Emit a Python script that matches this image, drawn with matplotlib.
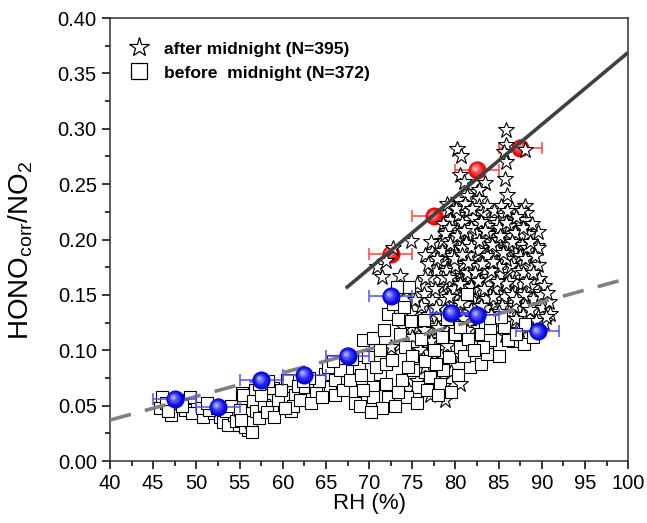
import matplotlib
matplotlib.use("Agg")
import matplotlib.pyplot as plt
import matplotlib.transforms as mtransforms
import numpy as np

plt.rcParams['font.family'] = ['Liberation Sans', 'DejaVu Sans']
plt.rcParams['mathtext.fontset'] = 'custom'
plt.rcParams['mathtext.rm'] = 'Liberation Sans'
plt.rcParams['mathtext.it'] = 'Liberation Sans:italic'

# ---------------- data ----------------
after_rh = [85.8, 85.9, 85.6, 80.2, 80.6, 88.0,
            85.8, 80.5, 81.0, 85.75, 83.4,
            81.3, 82.5, 82.7, 82.7, 86.0, 82.7, 88.1, 79.9, 80.8,
            79.2, 79.4, 80.3, 81.5, 82.0, 83.2, 84.0, 86.7, 88.2, 88.1, 87.1, 78.6, 80.9, 82.6, 84.8, 85.6, 89.6,
            74.9, 79.0, 78.9, 79.8, 80.6, 81.4, 82.2, 83.1, 83.9, 84.7, 85.5, 86.4, 87.3, 88.4, 72.8, 77.3, 76.5,
            79.1, 81.0, 84.3, 86.9, 89.4, 89.5, 87.7,
            70.9, 71.5, 71.9, 77.8, 78.5, 79.8, 80.6, 81.7, 82.5, 83.6, 84.5, 85.4, 86.0, 86.7, 88.8, 89.6, 80.2,
            82.9, 84.9, 79.0, 81.9,
            75.5, 76.3, 78.6, 80.9, 77.1, 79.6, 82.0, 83.1, 84.2, 85.1, 89.7, 88.6, 89.8, 87.5, 90.3, 73.6, 74.3,
            81.5, 84.0,
            74.8, 77.3, 78.2, 76.0, 79.5, 80.8, 82.0, 83.5, 84.6, 86.2, 87.1, 88.0, 89.0, 90.0, 90.8, 87.8, 89.5, 91.0,
            75.7, 76.7, 81.3, 82.3, 77.8, 79.0, 80.0, 83.5, 85.0, 86.5, 88.5, 90.2, 74.0, 78.5,
            75.9, 74.9, 73.5, 77.5, 79.0, 80.5, 72.5, 76.2,
            76.5, 77.5, 78.5, 75.5, 79.5, 77.0, 78.8, 74.5, 80.5,
            78.0, 79.3, 80.0, 80.8, 81.2, 82.4, 83.0, 83.6, 84.4, 85.0, 85.9, 86.2, 79.5, 80.9, 82.2, 83.3, 84.0,
            85.2, 86.4, 87.2, 79.0, 80.3, 81.6, 82.8, 83.9, 85.6, 86.8, 78.8, 80.1, 81.2, 82.5, 83.0, 84.1, 85.4,
            86.0, 87.0,
            80.3, 79.0, 80.1, 81.1, 81.9, 83.7, 84.5, 85.3, 86.5, 87.6,
            78.4, 78.8, 79.6, 80.4, 81.8, 82.9, 83.8, 84.9, 85.8, 86.9, 87.8, 88.9,
            77.2, 78.4, 79.6, 80.7, 81.6, 82.6, 83.6, 84.8, 85.9, 86.2, 87.5, 88.3,
            76.8, 77.9, 78.9, 80.0, 81.3, 82.5, 83.8, 85.0, 86.2, 87.8, 88.0,
            76.5, 77.6, 78.6, 79.8, 81.0, 82.2, 83.5, 84.6, 85.8, 86.5, 87.9,
            75.3, 76.8, 77.8, 79.2, 80.5, 81.8, 82.9, 84.4, 85.0, 86.8, 88.6, 89.9, 90.6,
            75.0, 76.4, 77.2, 78.0, 79.6, 80.9, 82.6, 84.2, 85.7, 87.4, 89.3, 90.5,
            79.4, 80.2, 81.0, 81.8, 82.7, 83.4, 84.2, 85.2, 79.8, 80.8, 81.5, 82.3, 83.1, 84.1, 84.8,
            79.3, 80.5, 81.8, 82.6, 83.3, 84.4, 85.5, 86.5, 87.0, 86.0, 88.6, 89.2, 89.0, 88.2, 87.0]
after_ratio = [0.299, 0.285, 0.279, 0.282, 0.275, 0.281,
               0.270, 0.258, 0.252, 0.255, 0.251,
               0.239, 0.243, 0.245, 0.237, 0.240, 0.230, 0.230, 0.233, 0.231,
               0.227, 0.218, 0.222, 0.226, 0.219, 0.224, 0.218, 0.222, 0.224, 0.218, 0.213, 0.214, 0.212, 0.214,
               0.215, 0.221, 0.207,
               0.199, 0.208, 0.201, 0.207, 0.198, 0.204, 0.196, 0.205, 0.199, 0.206, 0.197, 0.203, 0.196, 0.205,
               0.192, 0.189, 0.186, 0.192, 0.190, 0.191, 0.189, 0.194, 0.192, 0.195,
               0.175, 0.166, 0.181, 0.172, 0.180, 0.178, 0.184, 0.184, 0.169, 0.178, 0.173, 0.183, 0.171, 0.180,
               0.176, 0.177, 0.170, 0.186, 0.180, 0.186, 0.176,
               0.160, 0.151, 0.157, 0.163, 0.165, 0.167, 0.161, 0.158, 0.165, 0.157, 0.164, 0.157, 0.153, 0.159,
               0.158, 0.167, 0.155, 0.152, 0.150,
               0.133, 0.145, 0.130, 0.140, 0.140, 0.135, 0.145, 0.138, 0.143, 0.135, 0.148, 0.140, 0.146, 0.138,
               0.144, 0.132, 0.130, 0.133,
               0.121, 0.109, 0.118, 0.112, 0.122, 0.117, 0.126, 0.125, 0.128, 0.124, 0.122, 0.125, 0.120, 0.112,
               0.100, 0.097, 0.105, 0.098, 0.104, 0.095, 0.103, 0.092,
               0.085, 0.075, 0.068, 0.072, 0.080, 0.060, 0.055, 0.065, 0.070,
               0.195, 0.210, 0.188, 0.215, 0.197, 0.205, 0.192, 0.212, 0.200, 0.210, 0.190, 0.212, 0.174, 0.178,
               0.183, 0.170, 0.185, 0.168, 0.176, 0.172, 0.160, 0.150, 0.166, 0.148, 0.160, 0.148, 0.162, 0.145,
               0.132, 0.142, 0.128, 0.152, 0.132, 0.140, 0.118, 0.128,
               0.236, 0.232, 0.228, 0.232, 0.228, 0.230, 0.226, 0.230, 0.228, 0.226,
               0.199, 0.205, 0.200, 0.206, 0.210, 0.216, 0.205, 0.200, 0.215, 0.206, 0.210, 0.214,
               0.198, 0.190, 0.185, 0.192, 0.186, 0.190, 0.185, 0.190, 0.182, 0.195, 0.185, 0.192,
               0.178, 0.182, 0.172, 0.176, 0.170, 0.176, 0.166, 0.175, 0.163, 0.170, 0.182,
               0.165, 0.155, 0.165, 0.155, 0.158, 0.154, 0.146, 0.155, 0.160, 0.150, 0.150,
               0.145, 0.132, 0.138, 0.148, 0.143, 0.136, 0.140, 0.148, 0.135, 0.140, 0.136, 0.150, 0.152,
               0.112, 0.118, 0.108, 0.120, 0.122, 0.128, 0.120, 0.122, 0.114, 0.118, 0.126, 0.130,
               0.196, 0.203, 0.208, 0.193, 0.199, 0.208, 0.195, 0.203, 0.182, 0.186, 0.179, 0.170, 0.178, 0.172,
               0.162, 0.165, 0.160, 0.157, 0.163, 0.155, 0.180, 0.188, 0.198, 0.220, 0.226, 0.198, 0.185, 0.170,
               0.162, 0.145]

before_rh = [46.0, 45.8, 47.1, 49.3, 48.7, 49.5, 46.5, 47.8, 48.3, 46.7,
             50.8, 50.6, 52.0, 52.7, 53.1, 53.7, 54.3, 54.9, 51.5, 53.4, 54.0, 51.2, 52.4, 54.6,
             55.3, 55.4, 55.8, 56.0, 55.6, 55.4, 55.8, 56.8, 56.6, 56.3, 55.1, 56.9, 56.4, 55.2, 57.3,
             57.8, 58.7, 58.9, 60.1, 60.9, 60.5, 61.4, 57.5, 58.2, 59.4, 59.8, 61.2, 59.0, 60.3, 61.8, 58.3, 57.2,
             62.8, 62.6, 63.7, 63.9, 64.9, 65.5, 66.1, 66.6, 62.0, 63.3, 64.2, 64.5, 65.2, 66.0, 63.0, 65.8, 62.3,
             67.0,
             67.8, 68.4, 68.8, 69.1, 69.3, 69.7, 70.5, 69.9, 71.3, 71.7, 71.3, 70.5, 72.0, 72.2, 70.5, 69.3, 68.0,
             70.8, 71.5, 69.0, 70.2, 72.0,
             72.2, 73.2, 74.6, 72.8, 74.0, 74.9, 76.3, 73.6, 74.2, 72.6, 73.8, 75.1, 75.7, 76.7, 74.4, 73.0, 75.0,
             76.0, 73.3, 75.5, 76.5, 74.5, 73.4,
             77.1, 78.2, 78.6, 79.2, 80.5, 79.9, 78.4, 80.5, 81.7, 81.3, 77.5, 78.0, 79.5, 80.3, 81.0, 77.7, 81.5,
             79.0,
             82.9, 83.4, 83.6, 84.0, 85.6, 82.9, 86.7, 87.9, 88.1, 83.6, 84.0, 84.0, 86.1, 83.2, 85.0, 87.0, 89.0,
             85.3, 82.2]
before_ratio = [0.058, 0.048, 0.042, 0.058, 0.046, 0.043, 0.052, 0.055, 0.050, 0.045,
                0.040, 0.048, 0.043, 0.040, 0.035, 0.0325, 0.0415, 0.0325, 0.046, 0.045, 0.050, 0.052, 0.048, 0.036,
                0.061, 0.0535, 0.040, 0.028, 0.031, 0.060, 0.043, 0.064, 0.054, 0.035, 0.046, 0.045, 0.026, 0.037,
                0.039,
                0.051, 0.049, 0.066, 0.057, 0.045, 0.073, 0.060, 0.060, 0.044, 0.055, 0.064, 0.050, 0.040, 0.048,
                0.068, 0.072, 0.070,
                0.060, 0.067, 0.067, 0.061, 0.079, 0.067, 0.073, 0.082, 0.055, 0.052, 0.072, 0.058, 0.085, 0.060,
                0.075, 0.090, 0.072, 0.064,
                0.073, 0.052, 0.085, 0.078, 0.109, 0.064, 0.111, 0.094, 0.100, 0.118, 0.079, 0.067, 0.070, 0.058,
                0.058, 0.064, 0.092, 0.085, 0.048, 0.050, 0.044, 0.088,
                0.133, 0.157, 0.157, 0.142, 0.139, 0.126, 0.127, 0.115, 0.103, 0.091, 0.073, 0.082, 0.067, 0.064,
                0.058, 0.050, 0.095, 0.110, 0.128, 0.052, 0.090, 0.085, 0.062,
                0.076, 0.070, 0.082, 0.094, 0.103, 0.115, 0.112, 0.121, 0.085, 0.151, 0.100, 0.060, 0.062, 0.078,
                0.095, 0.088, 0.110, 0.128,
                0.088, 0.121, 0.106, 0.127, 0.121, 0.115, 0.108, 0.106, 0.124, 0.097, 0.118, 0.109, 0.109, 0.103,
                0.095, 0.115, 0.112, 0.130, 0.100]

blue_rh = [47.5, 52.5, 57.5, 62.5, 67.5, 72.5, 79.5, 82.5, 89.5]
blue_ratio = [0.056, 0.049, 0.073, 0.078, 0.095, 0.149, 0.134, 0.132, 0.117]
blue_rh_err = [2.5, 2.5, 2.5, 2.5, 2.5, 2.5, 2.5, 2.5, 2.5]

red_rh = [72.5, 77.5, 82.5, 87.5]
red_ratio = [0.187, 0.221, 0.263, 0.283]
red_rh_err = [2.5, 2.5, 2.5, 2.5]

fit_after_x = [67.3, 100.0]
fit_after_y = [0.156, 0.369]
fit_before_x = [40.0, 100.0]
fit_before_y = [0.037, 0.165]

legend_labels = ['after midnight (N=395)', 'before  midnight (N=372)']

# ---------------- figure ----------------
fig = plt.figure(figsize=(6.47, 5.23), dpi=100)
ax = fig.add_axes([0.170, 0.1185, 0.801, 0.847])


def spheres(x, y, xerr, base, light, ecolor, z):
    ax.errorbar(x, y, xerr=xerr, fmt='none', ecolor=ecolor, elinewidth=1.1,
                capsize=4.5, capthick=1.1, zorder=z)
    n = 8
    base = np.array(matplotlib.colors.to_rgb(base))
    light = np.array(matplotlib.colors.to_rgb(light))
    for k in range(n):
        t = k / (n - 1)
        size = 13.0 * (1 - 0.85 * t)
        col = base * (1 - t ** 1.5) + light * t ** 1.5
        off = mtransforms.offset_copy(ax.transData, fig=fig, x=-1.6 * t, y=1.6 * t, units='points')
        ax.plot(x, y, linestyle='none', marker='o', markersize=size, color=col,
                markeredgewidth=0, transform=off, zorder=z + 0.1 + k * 0.01)


spheres(red_rh, red_ratio, red_rh_err, '#f00000', '#ffc0c0', '#ff4040', 1.0)
ax.plot(after_rh, after_ratio, linestyle='none', marker='*', markersize=12,
        markerfacecolor='white', markeredgecolor='black', markeredgewidth=0.8, zorder=2)
ax.plot(fit_after_x, fit_after_y, color='#404040', lw=2.6, zorder=3, solid_capstyle='butt')
ax.plot(before_rh, before_ratio, linestyle='none', marker='s', markersize=8,
        markerfacecolor='white', markeredgecolor='black', markeredgewidth=0.8, zorder=4)
ax.plot(fit_before_x, fit_before_y, color='#808080', lw=2.6, dashes=(6, 4), zorder=5)
spheres(blue_rh, blue_ratio, blue_rh_err, '#0000e6', '#b0b0ff', '#5050ff', 6.0)

ax.set_xlim(40, 100)
ax.set_ylim(0, 0.40)
ax.set_xticks(np.arange(40, 101, 5))
ax.set_xticks(np.arange(40, 100.1, 2.5), minor=True)
ax.set_yticks(np.arange(0, 0.401, 0.05))
ax.set_yticks(np.arange(0, 0.401, 0.025), minor=True)
ax.set_yticklabels(['%.2f' % v for v in np.arange(0, 0.401, 0.05)])
ax.tick_params(which='major', direction='out', length=6, width=1.1, labelsize=14.5, colors='black')
ax.tick_params(which='minor', direction='out', length=3.5, width=1.1)
ax.tick_params(top=False, right=False, which='both')
for s in ax.spines.values():
    s.set_linewidth(1.1)
    s.set_color('#303030')

ax.set_xlabel('RH (%)', fontsize=16, labelpad=0)
ax.set_ylabel(r'HONO$_{\mathrm{corr}}$/NO$_{2}$', fontsize=20)
ax.yaxis.set_label_coords(-0.145, 0.475)

# legend
h1 = ax.plot([], [], linestyle='none', marker='*', markersize=15, markerfacecolor='white',
             markeredgecolor='black', markeredgewidth=0.9)[0]
h2 = ax.plot([], [], linestyle='none', marker='s', markersize=11, markerfacecolor='white',
             markeredgecolor='black', markeredgewidth=0.9)[0]
leg = ax.legend([h1, h2], legend_labels, loc='upper left', bbox_to_anchor=(0.012, 0.975),
                frameon=False, prop={'weight': 'bold', 'size': 12.6}, handletextpad=0.85,
                labelspacing=0.5, handlelength=1.2, borderaxespad=0.3)

fig.savefig('out.png', dpi=100)
